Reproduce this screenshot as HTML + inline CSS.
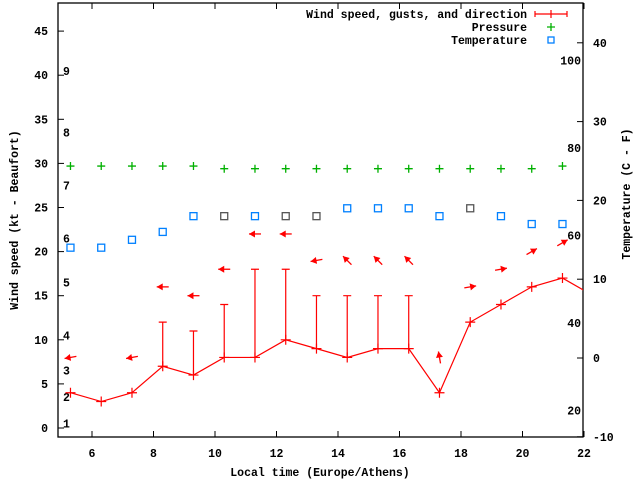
<!DOCTYPE html>
<html><head><meta charset="utf-8"><style>
body{margin:0;background:#fff;}
svg text{font-family:"Liberation Mono",monospace;font-weight:bold;font-size:11.5px;fill:#000;}
</style></head><body>
<svg id="chart" width="640" height="480" xmlns="http://www.w3.org/2000/svg">
<g id="axes"></g><g id="marks"></g>
</svg>
<script>
const times=[5.3,6.3,7.3,8.3,9.3,10.3,11.3,12.3,13.3,14.3,15.3,16.3,17.3,18.3,19.3,20.3,21.3,22.3];
const windSpeed=[4,3,4,7,6,8,8,10,9,8,9,9,4,12,14,16,17,15];
const gusts=[null,null,null,12,11,14,18,18,15,15,15,15,null,null,null,null,null,null];
const windDir=[260,null,260,270,270,270,270,270,260,315,315,315,350,80,80,60,60,null];
const tempC=[14,14,15,16,18,18,18,18,18,19,19,19,18,19,18,17,17];
const pressure=[29.7,29.7,29.7,29.7,29.7,29.4,29.4,29.4,29.4,29.4,29.4,29.4,29.4,29.4,29.4,29.4,29.7];
const xTicks=[6,8,10,12,14,16,18,20,22];
const yTicks=[0,5,10,15,20,25,30,35,40,45];
const y2Ticks=[-10,0,10,20,30,40];
const beaufort=[[1,1],[2,4],[3,7],[4,11],[5,17],[6,22],[7,28],[8,34],[9,41]];
const fahr=[20,40,60,80,100];
const greyTemp=[5,7,8,13];

const L=58,R=583,T=3,B=437;
const X=t=>92+(t-6)*30.75;
const Y=v=>428-v*8.82;
const Y2=c=>358-c*7.88;
const NS="http://www.w3.org/2000/svg";
const ax=document.getElementById('axes'),mk=document.getElementById('marks');
function el(tag,at,p){const e=document.createElementNS(NS,tag);for(const k in at)e.setAttribute(k,at[k]);(p||mk).appendChild(e);return e;}

const frame=el('rect',{x:L,y:T,width:R-L,height:B-T,fill:'none',stroke:'#000','stroke-width':1.3},ax);


xTicks.forEach(t=>{
  const x=X(t);
  el('line',{x1:x,x2:x,y1:B,y2:B-6,stroke:'#000'},ax);
  el('line',{x1:x,x2:x,y1:T,y2:T+6,stroke:'#000'},ax);
  const tx=el('text',{x:x,y:B+20,'text-anchor':'middle'},ax);tx.textContent=t;
  
  
});
yTicks.forEach(v=>{
  const y=Y(v);
  el('line',{x1:L,x2:L+6,y1:y,y2:y,stroke:'#000'},ax);
  const tx=el('text',{x:L-10,y:y+4,'text-anchor':'end'},ax);tx.textContent=v;
  
  
});
y2Ticks.forEach(v=>{
  const y=Y2(v);
  el('line',{x1:R,x2:R-6,y1:y,y2:y,stroke:'#000'},ax);
  const tx=el('text',{x:R+10,y:y+4,'text-anchor':'start'},ax);tx.textContent=v;
  
  
});
beaufort.forEach(b=>{
  const tx=el('text',{x:63,y:Y(b[1]-0.5)+4},ax);tx.textContent=b[0];
  
  
});
fahr.forEach(f=>{
  const c=(f-32)*5/9;
  const tx=el('text',{x:R-2,y:Y2(c)+4,'text-anchor':'end'},ax);tx.textContent=f;
  
  
});
let t1=el('text',{x:0,y:0,'text-anchor':'middle',transform:'translate(18,220) rotate(-90)'},ax);t1.textContent='Wind speed (kt - Beaufort)';

let t2=el('text',{x:0,y:0,'text-anchor':'middle',transform:'translate(630,194) rotate(-90)'},ax);t2.textContent='Temperature (C - F)';

let t3=el('text',{x:320,y:476,'text-anchor':'middle'},ax);t3.textContent='Local time (Europe/Athens)';


// clip
const defs=el('defs',{});const cp=el('clipPath',{id:'c'},defs);el('rect',{x:L,y:T,width:R-L,height:B-T},cp);
const g=el('g',{'clip-path':'url(#c)'});
function plus(x,y,c,s){el('path',{d:`M${x-s},${y}H${x+s}M${x},${y-s}V${y+s}`,stroke:c,'stroke-width':1.2,fill:'none'},g);}

// pressure
pressure.forEach((p,i)=>{const x=X(times[i]),y=Y(p);const e=el('path',{d:`M${x-4},${y}H${x+4}M${x},${y-4}V${y+4}`,stroke:'#00b000','stroke-width':1.3,fill:'none'},g);
});
// temperature
tempC.forEach((c,i)=>{const x=X(times[i]),y=Y2(c);const e=el('rect',{x:x-3.5,y:y-3.5,width:7,height:7,fill:'none',stroke:greyTemp.includes(i)?'#555':'#0080ff','stroke-width':1.3},g);
});
// wind line
const wl=el('polyline',{points:windSpeed.map((v,i)=>X(times[i])+','+Y(v)).join(' '),fill:'none',stroke:'#f00','stroke-width':1.2},g);

windSpeed.forEach((v,i)=>{
  const x=X(times[i]);
  const p=el('path',{d:`M${x-5},${Y(v)}H${x+5}M${x},${Y(v)-5}V${Y(v)+5}`,stroke:'#f00','stroke-width':1.2,fill:'none'},g);
  
  if(gusts[i]!=null){
    const e=el('path',{d:`M${x},${Y(v)}V${Y(gusts[i])}M${x-4},${Y(gusts[i])}H${x+4}`,stroke:'#f00','stroke-width':1.2,fill:'none'},g);
    
  }
  if(windDir[i]!=null){
    const top=(gusts[i]!=null?gusts[i]:v)+4;
    const cy=Y(top);
    // arrow points toward direction (downwind): compass deg where wind comes from; draw pointing direction angle
    const a=(windDir[i])*Math.PI/180; // screen direction: compass a, dx=sin, dy=-cos
    const dx=Math.sin(a),dy=-Math.cos(a);
    const hx=x+dx*6,hy=cy+dy*6,tx=x-dx*6,ty=cy-dy*6;
    const px=-dy,py=dx;
    const grp=el('g',{},g);
    
    
    el('line',{x1:tx,y1:ty,x2:hx,y2:hy,stroke:'#f00','stroke-width':1.3},grp);
    el('polygon',{points:`${hx},${hy} ${hx-dx*6+px*3.5},${hy-dy*6+py*3.5} ${hx-dx*6-px*3.5},${hy-dy*6-py*3.5}`,fill:'#f00'},grp);
  }
});

// legend
const leg=[['Wind speed, gusts, and direction',14],['Pressure',27],['Temperature',40]];
leg.forEach((l,i)=>{
  const tx=el('text',{x:527,y:l[1]+4,'text-anchor':'end'});tx.textContent=l[0];
  
});
el('path',{d:'M535,14H567M535,11V17M567,11V17M551,10V18',stroke:'#f00','stroke-width':1.2,fill:'none'});
el('path',{d:'M547,27H555M551,23V31',stroke:'#00b000','stroke-width':1.3,fill:'none'});
el('rect',{x:548,y:37,width:6,height:6,fill:'none',stroke:'#0080ff','stroke-width':1.3});
</script>
</body></html>
